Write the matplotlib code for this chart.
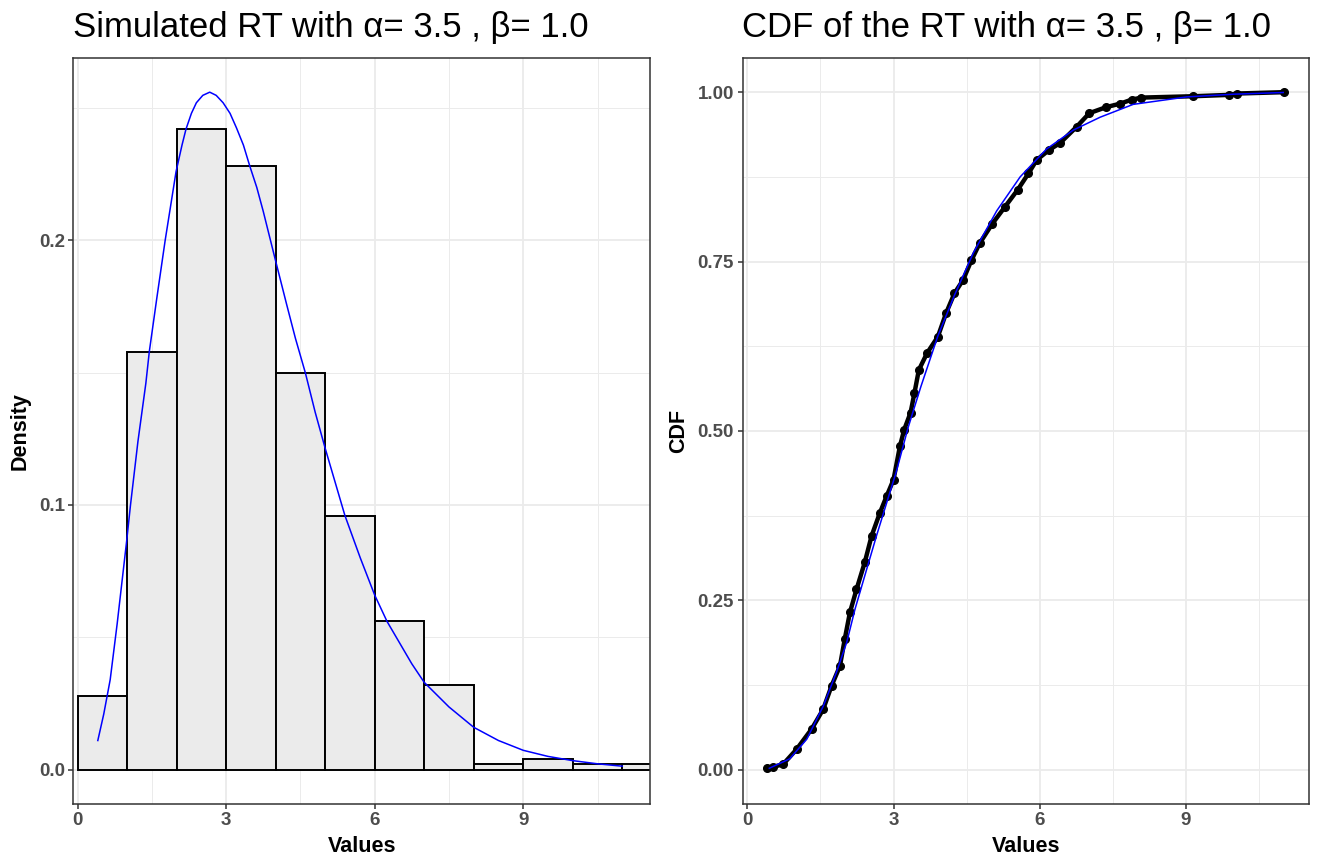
import numpy as np
import matplotlib
matplotlib.use("Agg")
import matplotlib.pyplot as plt
from matplotlib.ticker import MultipleLocator, FormatStrFormatter

plt.rcParams['font.family'] = ['Liberation Sans', 'DejaVu Sans']

# histogram (binwidth 1, counts out of 500 draws)
bin_left = [0, 1, 2, 3, 4, 5, 6, 7, 8, 9, 10, 11]
bin_count = [14, 79, 121, 114, 75, 48, 28, 16, 1, 2, 1, 1]
n_total = 500

# theoretical density
dens_x = [0.41, 0.53, 0.66, 0.80, 0.99, 1.07, 1.22, 1.38, 1.45, 1.60, 1.77, 1.99, 2.11, 2.19,
          2.30, 2.40, 2.53, 2.67, 2.80, 2.94, 3.08, 3.21, 3.35, 3.48, 3.62, 3.75, 3.99,
          4.22, 4.40, 4.60, 4.80, 5.00, 5.29, 5.40, 5.71, 6.00, 6.25, 6.50, 6.75, 7.00,
          7.50, 8.00, 8.50, 9.00, 9.50, 10.00, 10.50, 11.00]
dens_y = [0.011, 0.021, 0.034, 0.055, 0.086, 0.100, 0.124, 0.146, 0.158, 0.178, 0.200, 0.226,
          0.236, 0.242, 0.248, 0.252, 0.2548, 0.256, 0.2548, 0.252, 0.248, 0.2425, 0.236,
          0.228, 0.220, 0.211, 0.193, 0.176, 0.163, 0.150, 0.135, 0.1215, 0.103, 0.096,
          0.080, 0.066, 0.056, 0.048, 0.040, 0.033, 0.0237, 0.016, 0.011, 0.0073, 0.0050,
          0.0034, 0.0022, 0.0013]

# empirical CDF points
ecdf_x = [0.41, 0.53, 0.735, 1.01, 1.32, 1.556, 1.73, 1.90, 2.00, 2.105, 2.24, 2.41,
          2.55, 2.72, 2.86, 3.00, 3.13, 3.22, 3.35, 3.43, 3.52, 3.69, 3.91, 4.08,
          4.25, 4.43, 4.60, 4.77, 5.03, 5.29, 5.55, 5.77, 5.94, 6.20, 6.42, 6.76,
          7.02, 7.37, 7.65, 7.89, 8.09, 9.15, 9.89, 10.05, 11.02]
ecdf_y = [0.002, 0.004, 0.008, 0.030, 0.060, 0.089, 0.124, 0.153, 0.193, 0.232, 0.266, 0.306,
          0.345, 0.379, 0.404, 0.428, 0.477, 0.502, 0.527, 0.556, 0.590, 0.615, 0.639, 0.674,
          0.703, 0.723, 0.752, 0.777, 0.806, 0.831, 0.856, 0.880, 0.900, 0.915, 0.925, 0.949,
          0.969, 0.978, 0.983, 0.989, 0.992, 0.994, 0.996, 0.998, 1.000]

# theoretical CDF (blue)
cdf_x = [0.45, 0.87, 1.22, 1.56, 1.83, 2.04, 2.21, 2.45, 2.65, 2.86, 3.05, 3.30,
         3.56, 3.91, 4.25, 4.64, 5.12, 5.60, 6.14, 6.69, 7.24, 7.92, 9.02, 9.98, 11.0]
cdf_y = [0.002, 0.016, 0.045, 0.094, 0.144, 0.188, 0.237, 0.296, 0.345, 0.394, 0.438, 0.505,
         0.565, 0.640, 0.700, 0.763, 0.825, 0.875, 0.916, 0.944, 0.963, 0.982, 0.993, 0.997, 0.9995]

alpha, beta = 3.5, 1.0

W, H = 1319, 867
fig = plt.figure(figsize=(W / 100, H / 100), dpi=100)
ax1 = fig.add_axes([73.4 / W, 1 - 803.5 / H, (650 - 73.4) / W, (803.5 - 58.3) / H])
ax2 = fig.add_axes([742.5 / W, 1 - 803.5 / H, (1309.3 - 742.5) / W, (803.5 - 58.3) / H])


def bw_style(ax):
    ax.set_facecolor('white')
    ax.grid(which='major', color='#EBEBEB', lw=1.3)
    ax.grid(which='minor', color='#EBEBEB', lw=0.7)
    ax.set_axisbelow(True)
    for s in ax.spines.values():
        s.set_color('#333333')
        s.set_linewidth(1.1)
    ax.tick_params(which='major', length=3.6, width=1.1, color='#333333', pad=2.5,
                   labelsize=13.5, labelcolor='#4D4D4D')
    ax.tick_params(which='minor', length=0)
    for lab in ax.get_xticklabels() + ax.get_yticklabels():
        lab.set_fontweight('bold')


# left: histogram + density
dens = [c / n_total for c in bin_count]
ax1.bar(bin_left, dens, width=1, align='edge', color='#EBEBEB', edgecolor='black',
        linewidth=1.4, zorder=2)
ax1.plot(dens_x, dens_y, color='blue', lw=1.1, zorder=3)
ax1.set_xlim(-0.083, 11.56)
ax1.set_ylim(-0.0128, 0.2688)
ax1.xaxis.set_major_locator(MultipleLocator(3))
ax1.xaxis.set_minor_locator(MultipleLocator(1.5))
ax1.yaxis.set_major_locator(MultipleLocator(0.1))
ax1.yaxis.set_minor_locator(MultipleLocator(0.05))
ax1.yaxis.set_major_formatter(FormatStrFormatter('%.1f'))
bw_style(ax1)
ax1.set_xlabel('Values', fontsize=15.5, fontweight='bold', labelpad=5)
ax1.set_ylabel('Density', fontsize=15.5, fontweight='bold', labelpad=6)
ax1.set_title('Simulated RT with \u03b1= %.1f , \u03b2= %.1f' % (alpha, beta),
              loc='left', fontsize=25, pad=15)

# right: ECDF + theoretical CDF
ax2.plot(ecdf_x, ecdf_y, color='black', lw=3.2, marker='o', markersize=5.5, zorder=2)
ax2.plot(cdf_x, cdf_y, color='blue', lw=1.1, zorder=3)
ax2.set_xlim(-0.1, 11.535)
ax2.set_ylim(-0.05, 1.05)
ax2.xaxis.set_major_locator(MultipleLocator(3))
ax2.xaxis.set_minor_locator(MultipleLocator(1.5))
ax2.yaxis.set_major_locator(MultipleLocator(0.25))
ax2.yaxis.set_minor_locator(MultipleLocator(0.125))
ax2.yaxis.set_major_formatter(FormatStrFormatter('%.2f'))
bw_style(ax2)
ax2.set_xlabel('Values', fontsize=15.5, fontweight='bold', labelpad=5)
ax2.set_ylabel('CDF', fontsize=15.5, fontweight='bold', labelpad=6)
ax2.set_title('CDF of the RT with \u03b1= %.1f , \u03b2= %.1f' % (alpha, beta),
              loc='left', fontsize=25, pad=15)

fig.savefig('out.png', dpi=100)
